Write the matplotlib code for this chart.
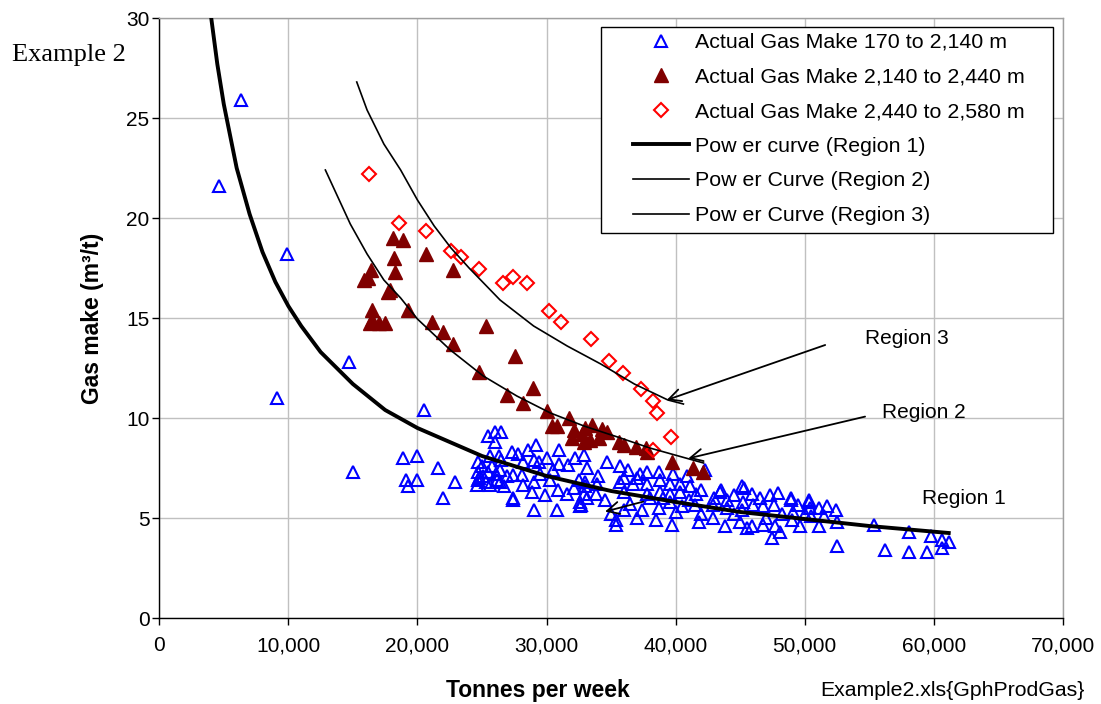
import matplotlib
matplotlib.use("Agg")
import matplotlib.pyplot as plt
from matplotlib.patches import Rectangle
from matplotlib.lines import Line2D
from matplotlib.ticker import FuncFormatter

plt.rcParams['font.family'] = ['Liberation Sans', 'DejaVu Sans']

# ---------------- data ----------------
blue_x = [4600, 6300, 9100, 9900, 14700, 15000, 20500, 18900, 19950, 19100, 19950, 19300,
          21600, 22900, 22000,
          25500, 26000, 26500, 26000, 24700, 25600, 26300, 26500, 24700, 25500, 26400, 24600,
          25600, 26400, 26900, 24700, 25100, 25750, 27400, 27300, 27800, 27400, 28600, 29200,
          28200, 29000, 29400, 30000, 31000, 32200, 32900, 28200, 29000, 28100, 29500, 30500,
          30300, 31000, 31700, 28900, 29900, 30900, 31600, 29000, 30800, 32700, 32500, 32100,
          33000, 33100, 27400, 32600, 24800, 25300, 26100, 26700, 25000, 26200,
          34700, 35700, 36300, 37200, 37800, 38700, 39800, 42300, 40900, 33100, 33000, 33900,
          35700, 36700, 37800, 38800, 39600, 40300, 41100, 42000, 32900, 33800, 36000, 37800,
          38800, 39600, 40300, 41600, 43400, 44500, 45300, 32600, 36000, 37400, 38700, 39600,
          40500, 41500, 42900, 44000, 45100, 35400, 35400, 38500, 39700, 41800, 42900, 43800,
          45000, 45500, 34000, 36000, 37000, 38000, 39000, 41000, 43000, 44000, 46500, 34500,
          36500, 35000, 37000, 40000, 42000, 44500, 47000, 49000, 50000, 51500,
          45900, 45250, 47300, 47950, 48900, 49500, 50300, 50400, 51100, 51700, 52400, 46000,
          46800, 47600, 48200, 49100, 50500, 45900, 46800, 47700, 49600, 51100, 52500, 48100,
          47500, 52500, 55400, 56200, 58100, 58100, 59500, 59800, 60600, 60600, 61200,
          43500, 45100, 48900, 50300]
blue_y = [21.6, 25.9, 11.0, 18.2, 12.8, 7.3, 10.4, 8.0, 8.1, 6.9, 6.9, 6.6,
          7.5, 6.8, 6.0,
          9.1, 9.3, 9.3, 8.8, 7.8, 8.1, 8.1, 7.9, 7.3, 7.3, 7.4, 6.65,
          6.65, 6.8, 7.1, 6.9, 7.1, 7.6, 7.15, 8.3, 8.2, 6.0, 8.4, 8.65,
          7.8, 7.9, 7.8, 8.0, 8.4, 8.0, 8.15, 6.65, 6.8, 7.15, 7.2, 7.4,
          6.9, 7.7, 7.65, 6.3, 6.15, 6.4, 6.2, 5.4, 5.4, 5.65, 6.9, 6.5,
          6.6, 6.0, 5.9, 5.6, 7.0, 6.8, 7.2, 6.6, 7.6, 6.9,
          7.8, 7.6, 7.4, 7.2, 7.3, 7.3, 7.2, 7.4, 7.1, 7.5, 6.8, 6.7,
          6.8, 6.7, 6.7, 6.9, 6.7, 6.7, 6.6, 6.4, 6.2, 6.2, 6.3, 6.2,
          6.3, 6.2, 6.3, 6.2, 6.3, 6.15, 6.5, 5.8, 5.4, 5.4, 5.5, 5.8,
          5.6, 5.65, 5.65, 5.5, 5.4, 4.9, 4.65, 4.9, 4.65, 4.8, 5.0, 4.6,
          4.8, 4.5, 7.1, 7.0, 7.0, 6.0, 6.0, 5.9, 6.0, 5.9, 6.0, 5.9,
          5.7, 5.2, 5.0, 5.3, 5.2, 5.2, 5.0, 4.9, 5.2, 5.1,
          6.2, 5.8, 6.15, 6.25, 5.9, 5.65, 5.8, 5.5, 5.5, 5.6, 5.4, 5.65,
          5.6, 5.65, 5.2, 5.3, 5.1, 4.6, 4.65, 4.6, 4.6, 4.6, 4.8, 4.3,
          4.0, 3.6, 4.65, 3.4, 4.3, 3.3, 3.3, 4.1, 3.9, 3.5, 3.8,
          6.4, 6.6, 6.0, 5.9]

maroon_x = [16200, 16400, 15900, 18100, 18900, 18200, 20700, 18300, 22750, 17700, 17900,
            16500, 19300, 16500, 17000, 17500, 16300, 21100, 22000, 25300, 22750, 27550,
            24750, 28950, 26930, 28180, 30050, 30440, 30820, 31720, 32110, 31980, 32880,
            33530, 33400, 34310, 34700, 34050, 35600, 35990, 36900, 37670, 37800, 39730,
            41360, 42140, 32750, 33000]
maroon_y = [17.0, 17.4, 16.9, 19.0, 18.9, 18.0, 18.2, 17.3, 17.4, 16.3, 16.4,
            15.4, 15.4, 14.9, 14.75, 14.75, 14.75, 14.8, 14.3, 14.6, 13.7, 13.1,
            12.3, 11.5, 11.15, 10.75, 10.35, 9.6, 9.6, 10.0, 9.4, 9.0, 8.8,
            9.65, 8.9, 9.45, 9.3, 9.0, 8.8, 8.65, 8.55, 8.5, 8.3, 7.8,
            7.5, 7.3, 9.2, 9.5]

red_x = [16220, 18550, 20690, 22600, 23400, 24750, 26610, 27410, 28500, 30170, 31130,
         33450, 34820, 35900, 37280, 38230, 38570, 39650, 38230]
red_y = [22.2, 19.77, 19.35, 18.37, 18.03, 17.45, 16.73, 17.03, 16.73, 15.33, 14.82,
         13.93, 12.83, 12.23, 11.43, 10.83, 10.23, 9.03, 8.4]

curve1_x = [4030, 4500, 5000, 6000, 7000, 8000, 9000, 10000, 11000, 12500, 15000, 17500,
            20000, 25000, 30000, 35000, 40000, 45000, 50000, 55000, 61150]
curve1_y = [30.0, 27.7, 25.7, 22.5, 20.2, 18.3, 16.8, 15.6, 14.6, 13.3, 11.7, 10.4,
            9.5, 8.1, 7.1, 6.35, 5.8, 5.3, 4.95, 4.6, 4.25]

curve2_x = [12870, 14800, 16100, 17400, 18700, 20000, 22550, 25100, 27700, 30300, 32900,
            35500, 38000, 42160]
curve2_y = [22.4, 19.7, 18.2, 16.9, 16.0, 14.95, 13.4, 12.1, 11.1, 10.25, 9.6,
            9.05, 8.5, 7.75]

curve3_x = [15300, 16100, 17400, 18700, 20000, 21300, 22600, 24000, 26400, 29000, 31600,
            34200, 36800, 39400, 40600]
curve3_y = [26.8, 25.4, 23.7, 22.4, 20.9, 19.6, 18.5, 17.5, 15.9, 14.6, 13.6,
            12.7, 11.7, 10.9, 10.7]

x_ticks = [0, 10000, 20000, 30000, 40000, 50000, 60000, 70000]
y_ticks = [0, 5, 10, 15, 20, 25, 30]

labels = ["Actual Gas Make 170 to 2,140 m",
          "Actual Gas Make 2,140 to 2,440 m",
          "Actual Gas Make 2,440 to 2,580 m",
          "Pow er curve (Region 1)",
          "Pow er Curve (Region 2)",
          "Pow er Curve (Region 3)"]

# ---------------- figure ----------------
W, H = 1101, 704
fig = plt.figure(figsize=(W / 100, H / 100), dpi=100)
L, R, T, B = 159.2, 1063, 18, 618
ax = fig.add_axes([L / W, 1 - B / H, (R - L) / W, (B - T) / H])

ax.set_xlim(0, 70000)
ax.set_ylim(0, 30)
ax.set_xticks(x_ticks)
ax.set_yticks(y_ticks)
ax.xaxis.set_major_formatter(FuncFormatter(lambda v, p: f"{int(v):,}"))
ax.grid(True, color='#c0c0c0', lw=1.0, zorder=0)
ax.set_axisbelow(True)
for s in ['top', 'right']:
    ax.spines[s].set_color('#a0a0a0')
    ax.spines[s].set_linewidth(1.0)
for s in ['left', 'bottom']:
    ax.spines[s].set_color('#000000')
    ax.spines[s].set_linewidth(1.0)
ax.tick_params(axis='both', direction='out', length=5, width=1, labelsize=15,
               colors='black')
ax.tick_params(axis='y', pad=2)
ax.tick_params(axis='x', pad=8)

ax.plot(blue_x, blue_y, ls='none', marker='^', ms=9, mfc='none', mec='#0000ff', mew=1.5, zorder=3)
ax.plot(maroon_x, maroon_y, ls='none', marker='^', ms=9.5, mfc='#800000', mec='#800000', mew=1, zorder=4)
ax.plot(red_x, red_y, ls='none', marker='D', ms=6.8, mfc='none', mec='#ff0000', mew=1.5, zorder=4)
ax.plot(curve1_x, curve1_y, color='black', lw=2.8, zorder=5, solid_joinstyle='round')
ax.plot(curve2_x, curve2_y, color='black', lw=1.2, zorder=5)
ax.plot(curve3_x, curve3_y, color='black', lw=1.2, zorder=5)

# Region annotations
arrow = dict(arrowstyle='->', lw=1.3, color='black', mutation_scale=22, shrinkA=0, shrinkB=0)
ax.annotate('', xy=(39310, 10.9), xytext=(51580, 13.65), arrowprops=arrow, zorder=6)
ax.annotate('', xy=(40980, 7.98), xytext=(54670, 10.07), arrowprops=arrow, zorder=6)
ax.annotate('', xy=(34530, 5.32), xytext=(37500, 5.82), arrowprops=arrow, zorder=6)
ax.text(54670, 14.0, 'Region 3', fontsize=15, va='center', ha='left')
ax.text(56020, 10.25, 'Region 2', fontsize=15, va='center', ha='left')
ax.text(59080, 6.0, 'Region 1', fontsize=15, va='center', ha='left')

# axis labels and captions
fig.text(92 / W, 1 - 318 / H, 'Gas make (m³/t)', rotation=90, fontsize=16.5, fontweight='bold',
         ha='center', va='center')
fig.text(538 / W, 1 - 690 / H, 'Tonnes per week', fontsize=16.5, fontweight='bold',
         ha='center', va='center')
fig.text(952 / W, 1 - 690 / H, 'Example2.xls{GphProdGas}', fontsize=15.3,
         ha='center', va='center')
fig.text(12 / W, 1 - 55 / H, 'Example 2', fontsize=19, family='Liberation Serif',
         ha='left', va='center')

# legend
fig.patches.append(Rectangle((601 / W, 1 - 233 / H), (1053 - 601) / W, (233 - 27) / H,
                             transform=fig.transFigure, fill=True, facecolor='white',
                             edgecolor='black', lw=1.0, zorder=10))
handles = [
    Line2D([], [], ls='none', marker='^', ms=9, mfc='none', mec='#0000ff', mew=1.5),
    Line2D([], [], ls='none', marker='^', ms=9.5, mfc='#800000', mec='#800000'),
    Line2D([], [], ls='none', marker='D', ms=6.8, mfc='none', mec='#ff0000', mew=1.5),
    Line2D([], [], color='black', lw=2.8),
    Line2D([], [], color='black', lw=1.2),
    Line2D([], [], color='black', lw=1.2),
]
leg = fig.legend(handles, labels, loc='upper left', bbox_to_anchor=(633 / W, 1 - 33 / H),
                 frameon=False, fontsize=15.4, borderpad=0, borderaxespad=0,
                 handlelength=2.6, handletextpad=0.3, labelspacing=0.73)
leg.set_zorder(11)

fig.savefig('out.png', dpi=100)
